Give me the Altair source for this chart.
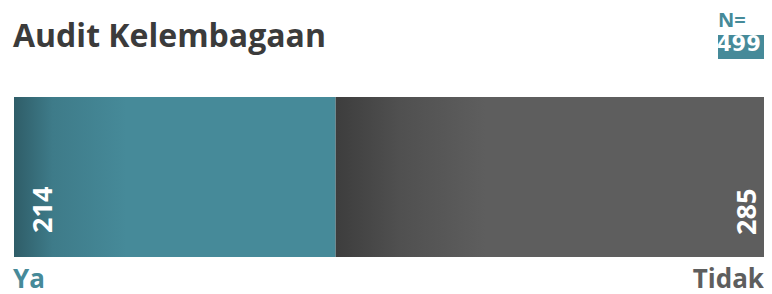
import altair as alt
import pandas as pd

# ---- data ----
categories = ["Ya", "Tidak"]
counts = [214, 285]
chart_title = "Audit Kelembagaan"
n_prefix = "N="
label_colors = ["#468a99", "#5e5e5e"]

total = sum(counts)
starts = [0, counts[0]]
ends = [counts[0], total]

df = pd.DataFrame({
    "cat": categories,
    "count": counts,
    "start": starts,
    "end": ends,
    "row": ["r"] * len(categories),
})
title_df = pd.DataFrame({"t": [chart_title], "n": [n_prefix], "total": [str(total)]})

W, H = 750, 160
FONT = "Open Sans"

xscale = alt.Scale(domain=[0, total], nice=False, zero=True)
yscale = alt.Scale(paddingInner=0, paddingOuter=0)
Y = alt.Y("row:N", scale=yscale, axis=None)
Ybottom = alt.Y("row:N", scale=yscale, axis=None, bandPosition=1)

teal_grad = alt.LinearGradient(
    gradient="linear", x1=0, x2=1, y1=0, y2=0,
    stops=[
        alt.GradientStop(offset=0, color="#2f5d68"),
        alt.GradientStop(offset=0.12, color="#3e7b89"),
        alt.GradientStop(offset=0.35, color="#468a99"),
        alt.GradientStop(offset=1, color="#468a99"),
    ],
)
gray_grad = alt.LinearGradient(
    gradient="linear", x1=0, x2=1, y1=0, y2=0,
    stops=[
        alt.GradientStop(offset=0, color="#3d3d3d"),
        alt.GradientStop(offset=0.15, color="#505050"),
        alt.GradientStop(offset=0.35, color="#5e5e5e"),
        alt.GradientStop(offset=1, color="#5e5e5e"),
    ],
)

base = alt.Chart(df)

bar_ya = base.transform_filter(alt.datum.cat == categories[0]).mark_bar(
    color=teal_grad, strokeWidth=0
).encode(
    x=alt.X("start:Q", scale=xscale, axis=None), x2="end:Q", y=Y
)
bar_tidak = base.transform_filter(alt.datum.cat == categories[1]).mark_bar(
    color=gray_grad, strokeWidth=0
).encode(
    x=alt.X("start:Q", scale=xscale, axis=None), x2="end:Q", y=Y
)

val_ya = base.transform_filter(alt.datum.cat == categories[0]).mark_text(
    angle=270, align="left", baseline="alphabetic", dx=24, dy=38,
    fontSize=27, fontWeight="bold", color="white", font=FONT
).encode(x=alt.X("start:Q", scale=xscale, axis=None), y=Ybottom, text="count:Q")

val_tidak = base.transform_filter(alt.datum.cat == categories[1]).mark_text(
    angle=270, align="left", baseline="alphabetic", dx=22, dy=-8,
    fontSize=27, fontWeight="bold", color="white", font=FONT
).encode(x=alt.X("end:Q", scale=xscale, axis=None), y=Ybottom, text="count:Q")

color_scale = alt.Scale(domain=categories, range=label_colors)

lab_ya = base.transform_filter(alt.datum.cat == categories[0]).mark_text(
    align="left", baseline="alphabetic", dx=-1, dy=31,
    fontSize=26, fontWeight="bold", font=FONT
).encode(x=alt.X("start:Q", scale=xscale, axis=None), y=Ybottom, text="cat:N",
         color=alt.Color("cat:N", scale=color_scale, legend=None))

lab_tidak = base.transform_filter(alt.datum.cat == categories[1]).mark_text(
    align="right", baseline="alphabetic", dx=0, dy=31,
    fontSize=26, fontWeight="bold", font=FONT
).encode(x=alt.X("end:Q", scale=xscale, axis=None), y=Ybottom, text="cat:N",
         color=alt.Color("cat:N", scale=color_scale, legend=None))

tbase = alt.Chart(title_df)
title_mark = tbase.mark_text(
    align="left", baseline="alphabetic", fontSize=32, fontWeight="bold",
    color="#3b3b3b", font=FONT
).encode(x=alt.value(-1), y=alt.value(-50), text="t:N")

n_box = tbase.mark_rect(color="#468a99").encode(
    x=alt.value(704), x2=alt.value(750), y=alt.value(-62), y2=alt.value(-38)
)
n_text = tbase.mark_text(
    align="left", baseline="alphabetic", fontSize=20, fontWeight="bold",
    color="#468a99", font=FONT
).encode(x=alt.value(704), y=alt.value(-70), text="n:N")
n_val = tbase.mark_text(
    align="left", baseline="alphabetic", fontSize=21, fontWeight="bold",
    color="white", font="DejaVu Sans"
).encode(x=alt.value(703), y=alt.value(-46), text="total:N")

chart = alt.layer(
    bar_ya, bar_tidak, val_ya, val_tidak, lab_ya, lab_tidak,
    title_mark, n_box, n_text, n_val
).properties(
    width=W, height=H,
    padding={"left": 6, "top": 89, "right": 0, "bottom": 37},
    autosize=alt.AutoSizeParams(type="none"),
    background="white",
).configure_view(stroke=None)

chart.save("out.html", embed_options={"renderer": "svg", "actions": False})
